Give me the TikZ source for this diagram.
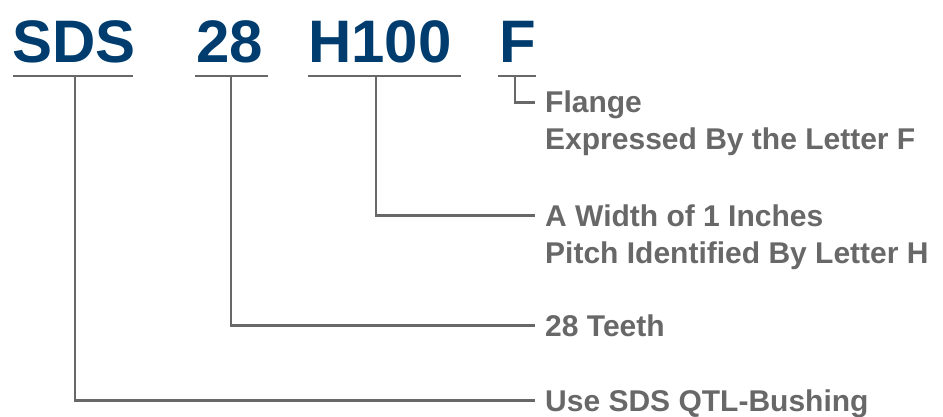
\documentclass[tikz,border=0pt]{standalone}
\usepackage{fontspec}
\setmainfont{Liberation Sans}
\usetikzlibrary{positioning}
\definecolor{codeblue}{RGB}{0,61,110}
\definecolor{notegray}{RGB}{104,104,104}

\begin{document}
\begin{tikzpicture}[
	x=1pt, y=-1pt, % 1pt = 1 pixel of the layout
	code/.style={
		font=\fontsize{60}{60}\selectfont\bfseries,
		text=codeblue,
		inner sep=0pt,
		anchor=base
	},
	desc/.style={             % gray description lines
		font=\fontsize{30}{30}\selectfont\bfseries,
		text=notegray,
		inner xsep=10pt, inner ysep=0pt,
		text height=21pt, text depth=0pt,
		anchor=base west
	},
	rule/.style={draw=notegray, line width=2.4pt},
	lead/.style={draw=notegray, line width=2.4pt}
	]
	\useasboundingbox (0,0) rectangle (943,417);

	% --- part code ---
	\node[code] (sds)  at (74,63)  {SDS};
	\node[code] (teeth) at (230,63) {28};
	\node[code] (width) at (380,63) {H100};
	\node[code] (flg)  at (518,63) {F};

	% underlines
	\foreach \name/\a/\b in {sds/13/133, teeth/195/268, width/308/461, flg/498/536} {
		\coordinate (\name-a) at (\a,76);
		\coordinate (\name-b) at (\b,76);
		\draw[rule] (\name-a) -- (\name-b);
	}
	% drop points
	\coordinate (sds-d)   at (75,76);
	\coordinate (teeth-d) at (231,76);
	\coordinate (width-d) at (376,76);
	\coordinate (flg-d)   at (515,76);

	% --- descriptions ---
	\node[desc] (flange)  at (535,113) {Flange};
	\node[desc] (flange2) at (535,150) {Expressed By the Letter F};
	\node[desc] (inch)    at (535,226) {A Width of 1 Inches};
	\node[desc] (inch2)   at (535,263) {Pitch Identified By Letter H};
	\node[desc] (count)   at (535,336) {28 Teeth};
	\node[desc] (bush)    at (535,411) {Use SDS QTL-Bushing};

	% --- leaders ---
	\draw[lead] (flg-d) |- (flange.west);
	\draw[lead] (width-d) |- (inch.west);
	\draw[lead] (teeth-d) |- (count.west);
	\draw[lead] (sds-d) |- (bush.west);
\end{tikzpicture}
\end{document}
